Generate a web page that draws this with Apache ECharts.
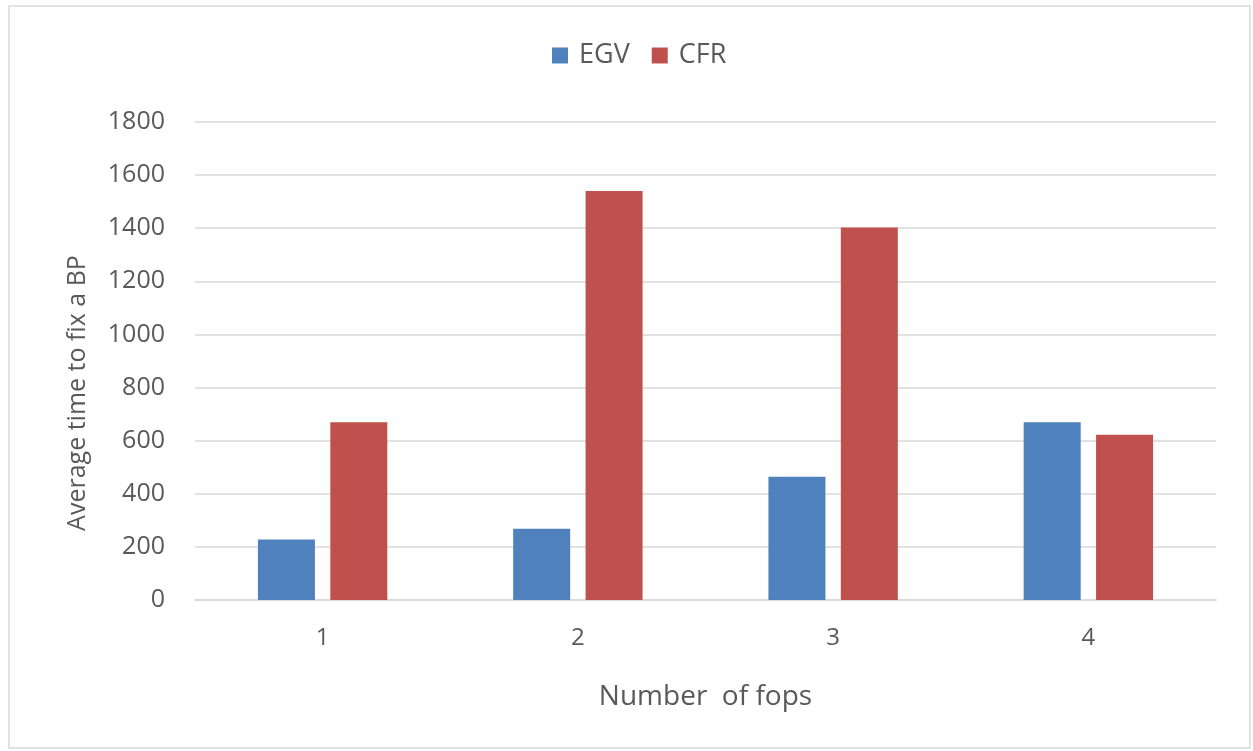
<!DOCTYPE html>
<html>
<head>
<meta charset="utf-8">
<script src="https://cdn.jsdelivr.net/npm/echarts@6/dist/echarts.min.js"></script>
<style>
  html, body { margin: 0; padding: 0; background: #fff; }
  #chart { width: 1253px; height: 751px; }
</style>
</head>
<body>
<div id="chart"></div>
<script>
// Average time to fix a BP, grouped by number of fops
const categories = ['1', '2', '3', '4'];
const egvValues = [228, 268, 464, 669];
const cfrValues = [669, 1540, 1403, 622];
const yTicks = { min: 0, max: 1800, interval: 200 };
const yAxisTitle = 'Average time to fix a BP';
const xAxisTitle = 'Number  of fops';

const textColor = '#595959';
const gridColor = '#d9d9d9';
const fontFamily = '"Open Sans", "DejaVu Sans", sans-serif';

const chart = echarts.init(document.getElementById('chart'), null, { renderer: 'canvas' });
chart.setOption({
  backgroundColor: '#fff',
  animation: false,
  graphic: [
    {
      type: 'rect',
      shape: { x: 9, y: 6, width: 1241, height: 742 },
      style: { fill: 'none', stroke: '#d9d9d9', lineWidth: 1.5 },
      silent: true
    },
    {
      // vertical axis title, rotated to read bottom-to-top
      type: 'text',
      x: 78,
      y: 393,
      rotation: Math.PI / 2,
      style: {
        text: yAxisTitle,
        fill: textColor,
        font: '25px ' + fontFamily,
        textAlign: 'center',
        textVerticalAlign: 'middle'
      },
      silent: true
    }
  ],
  legend: {
    top: 37,
    left: 547,
    itemWidth: 16,
    itemHeight: 16,
    itemGap: 22,
    icon: 'rect',
    textStyle: { color: textColor, fontSize: 27, fontFamily: fontFamily, padding: [0, 0, 0, 6] },
    data: ['EGV', 'CFR']
  },
  grid: { left: 195, right: 37, top: 122, bottom: 151, containLabel: false },
  xAxis: {
    type: 'category',
    data: categories,
    name: xAxisTitle,
    nameLocation: 'middle',
    nameGap: 83,
    nameTextStyle: { color: textColor, fontSize: 28, fontFamily: fontFamily },
    axisLine: { lineStyle: { color: gridColor, width: 1.5 } },
    axisTick: { show: false },
    axisLabel: { color: textColor, fontSize: 24, fontFamily: fontFamily, margin: 26 }
  },
  yAxis: {
    type: 'value',
    min: yTicks.min,
    max: yTicks.max,
    interval: yTicks.interval,
    axisLine: { show: false },
    axisTick: { show: false },
    axisLabel: {
      color: textColor,
      fontSize: 25,
      fontFamily: fontFamily,
      margin: 30,
      formatter: function (v) { return String(v); }
    },
    splitLine: { lineStyle: { color: gridColor, width: 1.5 } }
  },
  series: [
    {
      name: 'EGV',
      type: 'bar',
      data: egvValues,
      barWidth: 57,
      barGap: '27%',
      itemStyle: { color: '#4f81bd' }
    },
    {
      name: 'CFR',
      type: 'bar',
      data: cfrValues,
      barWidth: 57,
      barGap: '27%',
      itemStyle: { color: '#c0504d' }
    }
  ]
});
</script>
</body>
</html>
